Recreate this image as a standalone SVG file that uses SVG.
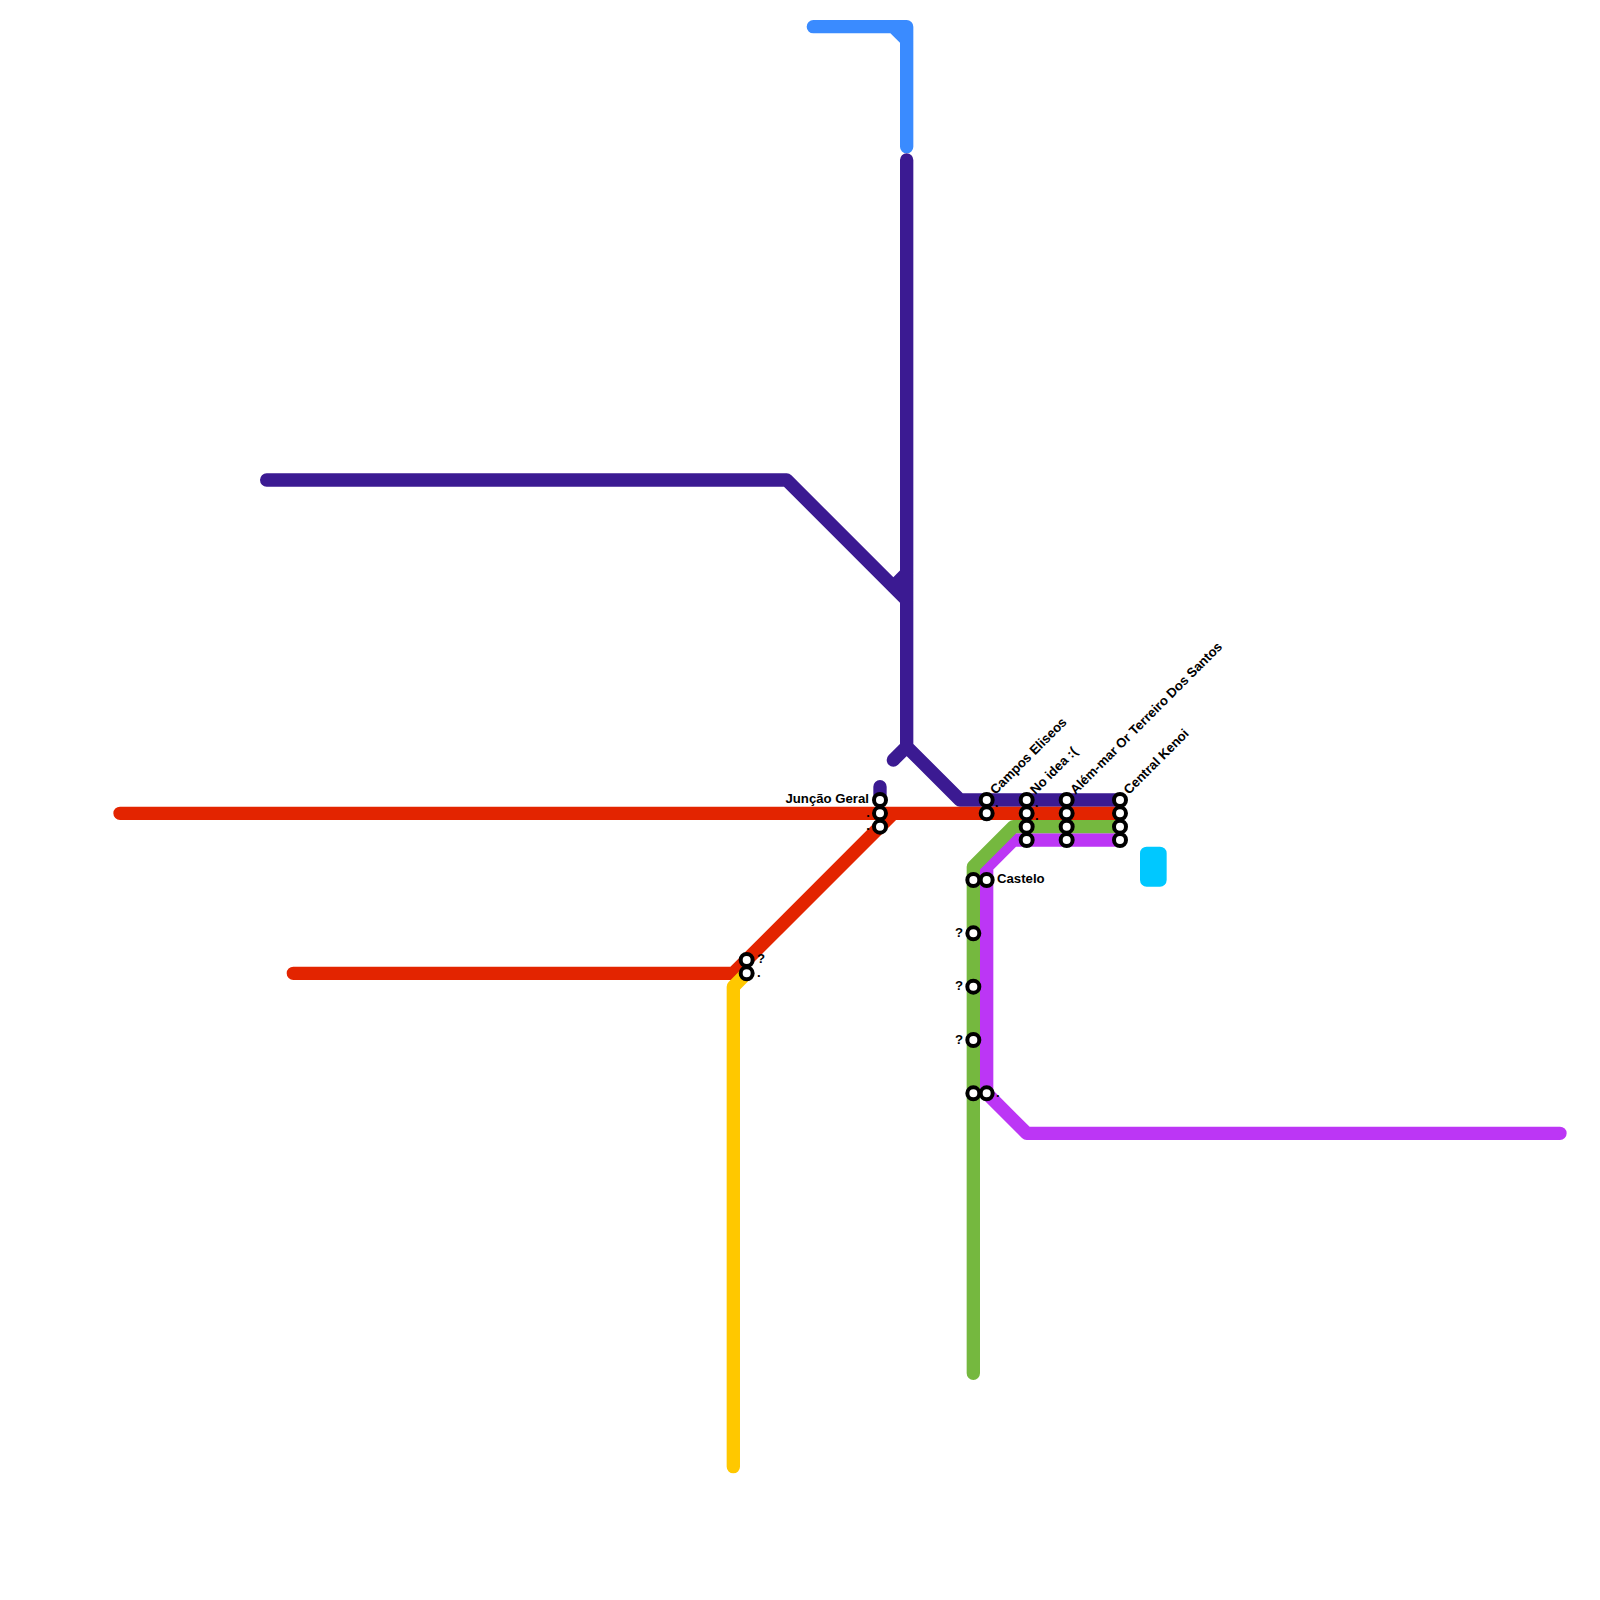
<svg xmlns="http://www.w3.org/2000/svg" width="1600" height="1600" viewBox="0 0 1600 1600">
<style>
.l{fill:none;stroke-width:13.33;stroke-linecap:round;stroke-linejoin:round}
.s{fill:#fff;stroke:#000;stroke-width:4}
text{font-family:"Liberation Sans",Arial,sans-serif;font-size:13.2px;font-weight:700;fill:#000}
</style>
<rect width="1600" height="1600" fill="#fff"/>
<g id="connectors">
<path class="l" stroke="#3a8bff" d="M813.33 26.67H906.67V146.67M893.33 26.67L906.67 40"/>
<path class="l" stroke="#3b1a92" d="M266.67 480H786.67L906.67 600M906.67 160V746.67M893.33 586.67L906.67 573.33M893.33 760L906.67 746.67L960 800H1120M880 786.67V800"/>
<path class="l" stroke="#e32400" d="M120 813.33H1120M293.33 973.33H733.33L893.33 813.33"/>
<path class="l" stroke="#ffc800" d="M733.33 1466.67V986.67L746.67 973.33"/>
<path class="l" stroke="#bc36f5" d="M1120 840H1013.33L986.67 866.67V1093.33L1026.67 1133.33H1560"/>
<path class="l" stroke="#75b83f" d="M973.33 1373.33V866.67L1013.33 826.67H1120"/>
<path class="l" stroke="#00c8ff" d="M1146.67 853.33H1160V880H1146.67ZM1153.33 853.33V880"/>
</g>
<g id="n-juncao"><circle class="s" cx="880" cy="800" r="6"/><text x="869" y="803" text-anchor="end">Junção Geral</text></g>
<g id="n-j2"><circle class="s" cx="880" cy="813.33" r="6"/><text x="870" y="817" text-anchor="end">.</text></g>
<g id="n-j3"><circle class="s" cx="880" cy="826.67" r="6"/><text x="870" y="830" text-anchor="end">.</text></g>
<g id="n-q1"><circle class="s" cx="746.67" cy="960" r="6"/><text x="757" y="963">?</text></g>
<g id="n-d1"><circle class="s" cx="746.67" cy="973.33" r="6"/><text x="757" y="977">.</text></g>
<g id="n-campos"><circle class="s" cx="986.67" cy="800" r="6"/><text transform="translate(995.5 795) rotate(-45)">Campos Eliseos</text></g>
<g id="n-campos2"><circle class="s" cx="986.67" cy="813.33" r="6"/><text x="995" y="807">.</text></g>
<g id="n-noidea"><circle class="s" cx="1026.67" cy="800" r="6"/><text transform="translate(1035.5 795) rotate(-45)">No idea :(</text></g>
<g id="n-noidea2"><circle class="s" cx="1026.67" cy="813.33" r="6"/><text x="1035" y="807">.</text></g>
<g id="n-noidea3"><circle class="s" cx="1026.67" cy="826.67" r="6"/><text x="1035" y="820">.</text></g>
<g id="n-noidea4"><circle class="s" cx="1026.67" cy="840" r="6"/></g>
<g id="n-alem"><circle class="s" cx="1066.67" cy="800" r="6"/><circle class="s" cx="1066.67" cy="813.33" r="6"/><circle class="s" cx="1066.67" cy="826.67" r="6"/><circle class="s" cx="1066.67" cy="840" r="6"/><text transform="translate(1075.5 795) rotate(-45)">Além-mar Or Terreiro Dos Santos</text></g>
<g id="n-kenoi"><circle class="s" cx="1120" cy="800" r="6"/><circle class="s" cx="1120" cy="813.33" r="6"/><circle class="s" cx="1120" cy="826.67" r="6"/><circle class="s" cx="1120" cy="840" r="6"/><text transform="translate(1129 795) rotate(-45)">Central Kenoi</text></g>
<g id="n-castelo"><circle class="s" cx="973.33" cy="880" r="6"/><circle class="s" cx="986.67" cy="880" r="6"/><text x="997" y="883">Castelo</text></g>
<g id="n-g1"><circle class="s" cx="973.33" cy="933.33" r="6"/><text x="963" y="937" text-anchor="end">?</text></g>
<g id="n-g2"><circle class="s" cx="973.33" cy="986.67" r="6"/><text x="963" y="990" text-anchor="end">?</text></g>
<g id="n-g3"><circle class="s" cx="973.33" cy="1040" r="6"/><text x="963" y="1044" text-anchor="end">?</text></g>
<g id="n-g4"><circle class="s" cx="973.33" cy="1093.33" r="6"/></g>
<g id="n-m4"><circle class="s" cx="986.67" cy="1093.33" r="6"/><text x="996" y="1097">.</text></g>
</svg>
